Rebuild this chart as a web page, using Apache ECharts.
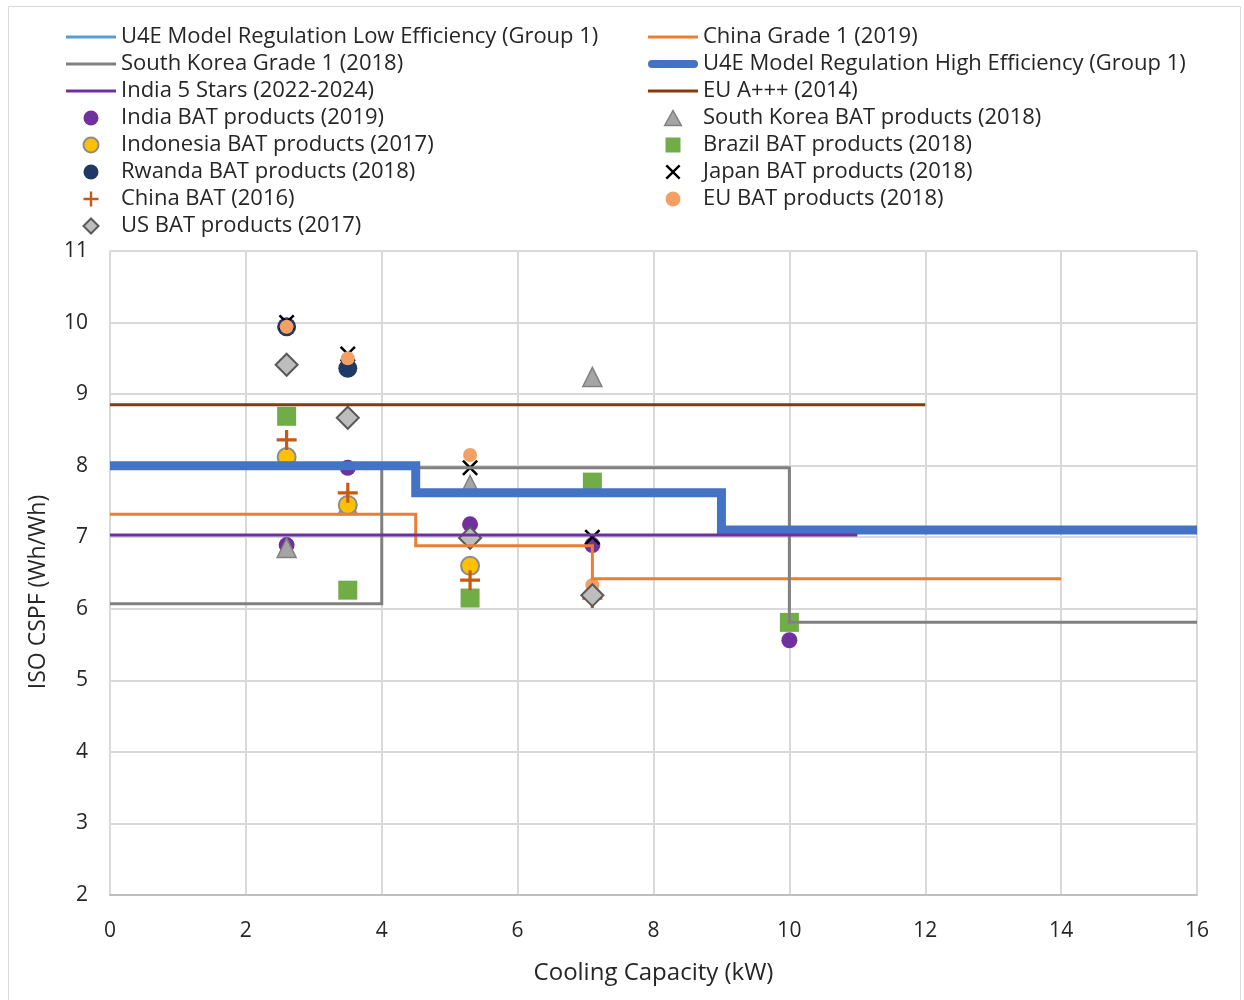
<!DOCTYPE html>
<html>
<head>
<meta charset="utf-8">
<script src="https://cdn.jsdelivr.net/npm/echarts@6/dist/echarts.min.js"></script>
<style>html,body{margin:0;padding:0;background:#fff}#c{width:1244px;height:1000px}</style>
</head>
<body>
<div id="c"></div>
<script>
// ---- Data ----
const xTicks = [0, 2, 4, 6, 8, 10, 12, 14, 16];
const yTicks = [2, 3, 4, 5, 6, 7, 8, 9, 10, 11];

// Threshold (step) lines: x and y vertices
const u4eLowX = [];
const u4eLowY = [];
const chinaG1X = [0, 4.5, 4.5, 7.1, 7.1, 14];
const chinaG1Y = [7.32, 7.32, 6.88, 6.88, 6.42, 6.42];
const korG1X = [0, 4, 4, 10, 10, 16];
const korG1Y = [6.07, 6.07, 7.97, 7.97, 5.81, 5.81];
const u4eHighX = [0, 4.5, 4.5, 9, 9, 16];
const u4eHighY = [8.0, 8.0, 7.62, 7.62, 7.1, 7.1];
const india5X = [0, 11];
const india5Y = [7.03, 7.03];
const euAX = [0, 12];
const euAY = [8.85, 8.85];

// BAT products
const indiaBatX = [2.6, 3.5, 5.3, 7.1, 10];
const indiaBatY = [6.89, 7.97, 7.18, 6.89, 5.56];
const korBatX = [2.6, 3.5, 5.3, 7.1];
const korBatY = [6.85, 7.45, 7.73, 9.24];
const indoBatX = [2.6, 3.5, 5.3];
const indoBatY = [8.12, 7.45, 6.6];
const brazilBatX = [2.6, 3.5, 5.3, 7.1, 10];
const brazilBatY = [8.69, 6.26, 6.15, 7.77, 5.81];
const rwandaBatX = [2.6, 3.5];
const rwandaBatY = [9.94, 9.36];
const japanBatX = [2.6, 3.5, 5.3, 7.1];
const japanBatY = [10.0, 9.56, 7.97, 7.0];
const chinaBatX = [2.6, 3.5, 5.3, 7.1];
const chinaBatY = [8.36, 7.62, 6.4, 6.15];
const euBatX = [2.6, 3.5, 5.3, 7.1];
const euBatY = [9.94, 9.5, 8.15, 6.33];
const usBatX = [2.6, 3.5, 5.3, 7.1];
const usBatY = [9.41, 8.67, 6.99, 6.19];

const names = {
  u4eLow: 'U4E Model Regulation Low Efficiency (Group 1)',
  chinaG1: 'China Grade 1 (2019)',
  korG1: 'South Korea Grade 1 (2018)',
  u4eHigh: 'U4E Model Regulation High Efficiency (Group 1)',
  india5: 'India 5 Stars (2022-2024)',
  euA: 'EU A+++ (2014)',
  indiaBat: 'India BAT products (2019)',
  korBat: 'South Korea BAT products (2018)',
  indoBat: 'Indonesia BAT products (2017)',
  brazilBat: 'Brazil BAT products (2018)',
  rwandaBat: 'Rwanda BAT products (2018)',
  japanBat: 'Japan BAT products (2018)',
  chinaBat: 'China BAT (2016)',
  euBat: 'EU BAT products (2018)',
  usBat: 'US BAT products (2017)'
};

const pair = (xs, ys) => xs.map((x, i) => [x, ys[i]]);
const FONT = 'Open Sans';
const PLUS = 'path://M4.2,0H5.8V4.2H10V5.8H5.8V10H4.2V5.8H0V4.2H4.2Z';
const CROSS = 'path://M0,1.1L1.1,0L5,3.9L8.9,0L10,1.1L6.1,5L10,8.9L8.9,10L5,6.1L1.1,10L0,8.9L3.9,5Z';
const TRI = 'path://M5,0L10,9L0,9Z';
const DIAM = 'path://M5,0L10,5L5,10L0,5Z';
const SQ = 'path://M0,0H10V10H0Z';
const LINE3 = 'path://M0,0H50V3H0Z';
const LINE9 = 'path://M4,0H46A4,4,0,0,1,46,8H4A4,4,0,0,1,4,0Z';

function lineS(name, xs, ys, color, width) {
  return { name, type: 'line', data: pair(xs, ys), symbol: 'none', showSymbol: false,
    lineStyle: { color, width, join: 'miter', cap: 'butt' }, itemStyle: { color },
    emphasis: { disabled: true }, animation: false };
}
function scatS(name, xs, ys, symbol, size, fill, border, bw) {
  return { name, type: 'scatter', data: pair(xs, ys), symbol, symbolSize: size,
    itemStyle: { color: fill, borderColor: border || fill, borderWidth: bw || 0, opacity: 1 },
    emphasis: { disabled: true }, animation: false };
}

const series = [
  lineS(names.u4eLow, u4eLowX, u4eLowY, '#5B9BD5', 3),
  lineS(names.chinaG1, chinaG1X, chinaG1Y, '#ED7D31', 3),
  lineS(names.korG1, korG1X, korG1Y, '#808080', 3),
  lineS(names.u4eHigh, u4eHighX, u4eHighY, '#4472C4', 9),
  lineS(names.india5, india5X, india5Y, '#7030A0', 3),
  lineS(names.euA, euAX, euAY, '#843C0C', 3),
  scatS(names.indiaBat, indiaBatX, indiaBatY, 'circle', 16, '#7030A0'),
  scatS(names.korBat, korBatX, korBatY, 'triangle', 19, '#A5A5A5', '#808080', 1.5),
  scatS(names.indoBat, indoBatX, indoBatY, 'circle', 18, '#FFC000', '#8C8C8C', 2),
  scatS(names.brazilBat, brazilBatX, brazilBatY, 'rect', 19, '#70AD47'),
  scatS(names.rwandaBat, rwandaBatX, rwandaBatY, 'circle', 19, '#203864'),
  scatS(names.japanBat, japanBatX, japanBatY, CROSS, 16, '#000000'),
  scatS(names.chinaBat, chinaBatX, chinaBatY, PLUS, 20, '#C55A11'),
  scatS(names.euBat, euBatX, euBatY, 'circle', 14, '#F4A064'),
  scatS(names.usBat, usBatX, usBatY, 'diamond', 22, '#BDBDBD', '#595959', 2)
];

const legendText = { fontFamily: FONT, fontSize: 22, color: '#262626' };
const legendCommon = { orient: 'vertical', itemWidth: 50, itemHeight: 15, itemGap: 5,
  textStyle: legendText, selectedMode: false, padding: 0, symbolKeepAspect: true };

const lineItem = (name, color, icon) => ({ name, icon: icon || LINE3, itemStyle: { color, borderWidth: 0 } });
const iconItem = (name, icon, color, border, bw) => ({ name, icon, itemStyle: { color, borderColor: border || color, borderWidth: bw || 0 } });

const option = {
  backgroundColor: '#ffffff',
  animation: false,
  graphic: [{ type: 'rect', shape: { x: 8.5, y: 6.5, width: 1232, height: 1010 },
    style: { fill: 'none', stroke: '#D9D9D9', lineWidth: 1 }, silent: true }],
  legend: [
    Object.assign({}, legendCommon, { left: 66, top: 26,
      data: [
        lineItem(names.u4eLow, '#5B9BD5'),
        lineItem(names.korG1, '#808080'),
        lineItem(names.india5, '#7030A0'),
        iconItem(names.indiaBat, 'circle', '#7030A0'),
        iconItem(names.indoBat, 'circle', '#FFC000', '#8C8C8C', 2),
        iconItem(names.rwandaBat, 'circle', '#203864'),
        iconItem(names.chinaBat, PLUS, '#C55A11'),
        iconItem(names.usBat, DIAM, '#BDBDBD', '#595959', 2)
      ] }),
    Object.assign({}, legendCommon, { left: 648, top: 26,
      data: [
        lineItem(names.chinaG1, '#ED7D31'),
        lineItem(names.u4eHigh, '#4472C4', LINE9),
        lineItem(names.euA, '#843C0C'),
        iconItem(names.korBat, TRI, '#A5A5A5', '#808080', 1.5),
        iconItem(names.brazilBat, SQ, '#70AD47'),
        iconItem(names.japanBat, CROSS, '#000000'),
        iconItem(names.euBat, 'circle', '#F4A064')
      ] })
  ],
  grid: { left: 110, right: 47, top: 251, bottom: 105, containLabel: false },
  xAxis: {
    type: 'value', min: xTicks[0], max: xTicks[xTicks.length - 1], interval: 2,
    name: 'Cooling Capacity (kW)', nameLocation: 'middle', nameGap: 66,
    nameTextStyle: { fontFamily: FONT, fontSize: 24, color: '#262626' },
    axisLine: { show: true, lineStyle: { color: '#BFBFBF', width: 2 } },
    axisTick: { show: false },
    axisLabel: { fontFamily: FONT, fontSize: 21, color: '#262626', margin: 26 },
    splitLine: { show: true, lineStyle: { color: '#D9D9D9', width: 2 } }
  },
  yAxis: {
    type: 'value', min: yTicks[0], max: yTicks[yTicks.length - 1], interval: 1,
    name: 'ISO CSPF (Wh/Wh)', nameLocation: 'middle', nameGap: 60,
    nameTextStyle: { fontFamily: FONT, fontSize: 23, color: '#262626', padding: [0, 0, 0, -38] },
    axisLine: { show: true, lineStyle: { color: '#D9D9D9', width: 2 } },
    axisTick: { show: false },
    axisLabel: { fontFamily: FONT, fontSize: 21, color: '#262626', margin: 22 },
    splitLine: { show: true, lineStyle: { color: '#D9D9D9', width: 2 } }
  },
  series
};

const chart = echarts.init(document.getElementById('c'), null, { renderer: 'canvas' });
chart.setOption(option);
</script>
</body>
</html>
